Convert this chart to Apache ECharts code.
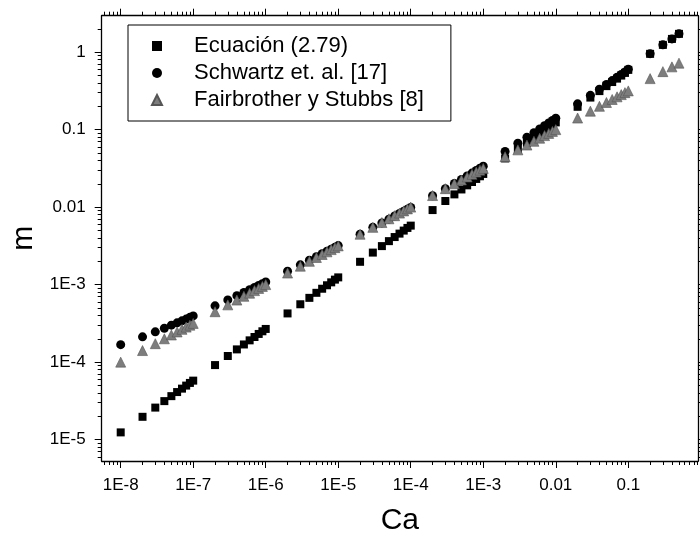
<!DOCTYPE html>
<html>
<head>
<meta charset="utf-8">
<script src="https://cdn.jsdelivr.net/npm/echarts@6/dist/echarts.min.js"></script>
<style>html,body{margin:0;padding:0;background:#fff;}#c{width:700px;height:536px;}</style>
</head>
<body>
<div id="c"></div>
<script>
// Capillary number (x values)
const ca = [
  1e-8,2e-8,3e-8,4e-8,5e-8,6e-8,7e-8,8e-8,9e-8,
  1e-7,2e-7,3e-7,4e-7,5e-7,6e-7,7e-7,8e-7,9e-7,
  1e-6,2e-6,3e-6,4e-6,5e-6,6e-6,7e-6,8e-6,9e-6,
  1e-5,2e-5,3e-5,4e-5,5e-5,6e-5,7e-5,8e-5,9e-5,
  1e-4,2e-4,3e-4,4e-4,5e-4,6e-4,7e-4,8e-4,9e-4,
  1e-3,2e-3,3e-3,4e-3,5e-3,6e-3,7e-3,8e-3,9e-3,
  0.01,0.02,0.03,0.04,0.05,0.06,0.07,0.08,0.09,
  0.1,0.2,0.3,0.4,0.5
];
const ecuacion = [
  1.24e-5,1.97e-5,2.59e-5,3.14e-5,3.64e-5,4.11e-5,4.55e-5,4.98e-5,5.39e-5,
  5.77e-5,9.16e-5,1.20e-4,1.46e-4,1.69e-4,1.91e-4,2.11e-4,2.31e-4,2.50e-4,
  2.68e-4,4.25e-4,5.58e-4,6.75e-4,7.84e-4,8.85e-4,9.81e-4,1.07e-3,1.16e-3,
  1.24e-3,1.97e-3,2.59e-3,3.14e-3,3.64e-3,4.11e-3,4.55e-3,4.98e-3,5.39e-3,
  5.77e-3,9.16e-3,0.0120,0.0146,0.0169,0.0191,0.0211,0.0231,0.0250,
  0.0268,0.0425,0.0558,0.0675,0.0784,0.0885,0.0981,0.107,0.116,
  0.124,0.197,0.259,0.314,0.364,0.411,0.455,0.498,0.539,
  0.590,0.950,1.24,1.48,1.72
];
const schwartz = [
  1.68e-4,2.12e-4,2.46e-4,2.74e-4,3.00e-4,3.21e-4,3.41e-4,3.59e-4,3.78e-4,
  3.95e-4,5.32e-4,6.35e-4,7.21e-4,7.92e-4,8.60e-4,9.20e-4,9.75e-4,1.03e-3,
  1.08e-3,1.49e-3,1.80e-3,2.06e-3,2.29e-3,2.50e-3,2.70e-3,2.87e-3,3.03e-3,
  3.19e-3,4.47e-3,5.48e-3,6.26e-3,7.00e-3,7.67e-3,8.28e-3,8.85e-3,9.39e-3,
  9.9e-3,0.0140,0.0173,0.0202,0.0228,0.0252,0.0275,0.0297,0.0318,
  0.0338,0.0523,0.0668,0.0797,0.0912,0.102,0.112,0.122,0.131,
  0.140,0.215,0.277,0.332,0.382,0.429,0.474,0.515,0.555,
  0.600,0.955,1.24,1.48,1.73
];
const fairbrother = [
  1.00e-4,1.41e-4,1.73e-4,2.00e-4,2.24e-4,2.45e-4,2.65e-4,2.83e-4,3.00e-4,
  3.16e-4,4.47e-4,5.48e-4,6.32e-4,7.07e-4,7.75e-4,8.37e-4,8.94e-4,9.49e-4,
  1.00e-3,1.41e-3,1.73e-3,2.00e-3,2.24e-3,2.45e-3,2.65e-3,2.83e-3,3.00e-3,
  3.16e-3,4.47e-3,5.48e-3,6.32e-3,7.07e-3,7.75e-3,8.37e-3,8.94e-3,9.49e-3,
  0.0100,0.0141,0.0173,0.0200,0.0224,0.0245,0.0265,0.0283,0.0300,
  0.0316,0.0447,0.0548,0.0632,0.0707,0.0775,0.0837,0.0894,0.0949,
  0.100,0.141,0.173,0.200,0.224,0.245,0.265,0.283,0.300,
  0.316,0.455,0.560,0.645,0.720
];
const seriesNames = ['Ecuación (2.79)', 'Schwartz et. al. [17]', 'Fairbrother y Stubbs [8]'];

const xTickValues = [1e-8,1e-7,1e-6,1e-5,1e-4,1e-3,0.01,0.1];
const xTickLabels = ['1E-8','1E-7','1E-6','1E-5','1E-4','1E-3','0.01','0.1'];
const yTickValues = [1e-5,1e-4,1e-3,0.01,0.1,1];
const yTickLabels = ['1E-5','1E-4','1E-3','0.01','0.1','1'];

const X_MIN = 5.47e-9, X_MAX = 0.915;
const Y_MIN = 5.3e-6, Y_MAX = 2.95;

function minorTicks(lo, hi) {
  const out = [];
  for (let e = -10; e <= 1; e++) {
    for (let k = 2; k <= 9; k++) {
      const v = parseFloat((k * Math.pow(10, e)).toPrecision(6));
      if (v >= lo && v <= hi) out.push(v);
    }
  }
  return out;
}
const xMinor = minorTicks(X_MIN, X_MAX);
const yMinor = minorTicks(Y_MIN, Y_MAX);

const FONT = 'Liberation Sans, Arial, sans-serif';
const AX = '#000';

function pairs(ys) { return ca.map((x, i) => [x, ys[i]]); }
function lab(vals, labels) {
  return function (v) {
    for (let i = 0; i < vals.length; i++) {
      if (Math.abs(Math.log10(v) - Math.log10(vals[i])) < 1e-6) return labels[i];
    }
    return '';
  };
}

function xAx(pos, major, withLabel, extra) {
  return Object.assign({
    type: 'log', min: X_MIN, max: X_MAX, position: pos,
    axisLine: { show: major, lineStyle: { color: AX, width: 1.3 } },
    axisTick: { show: true, inside: false, length: major ? 7 : 4,
      customValues: major ? xTickValues : xMinor, lineStyle: { color: AX, width: 1 } },
    axisLabel: { show: withLabel, customValues: xTickValues, formatter: lab(xTickValues, xTickLabels),
      color: '#000', fontSize: 17, fontFamily: FONT, margin: 16 },
    splitLine: { show: false }, minorTick: { show: false }, minorSplitLine: { show: false }
  }, extra || {});
}
function yAx(pos, major, withLabel, extra) {
  return Object.assign({
    type: 'log', min: Y_MIN, max: Y_MAX, position: pos,
    axisLine: { show: major, lineStyle: { color: AX, width: 1.3 } },
    axisTick: { show: true, inside: false, length: major ? 7 : 4,
      customValues: major ? yTickValues : yMinor, lineStyle: { color: AX, width: 1 } },
    axisLabel: { show: withLabel, customValues: yTickValues, formatter: lab(yTickValues, yTickLabels),
      color: '#000', fontSize: 17, fontFamily: FONT, margin: 16 },
    splitLine: { show: false }, minorTick: { show: false }, minorSplitLine: { show: false }
  }, extra || {});
}

const chart = echarts.init(document.getElementById('c'), null, { renderer: 'canvas' });
chart.setOption({
  animation: false,
  backgroundColor: '#fff',
  textStyle: { fontFamily: FONT },
  grid: { left: 101.7, right: 2, top: 15.7, bottom: 75, outerBoundsMode: 'none', containLabel: false },
  legend: {
    data: seriesNames,
    orient: 'vertical', left: 128, top: 25,
    itemWidth: 10, itemHeight: 10, itemGap: 5,
    padding: [10, 27, 10, 23],
    borderColor: '#000', borderWidth: 1, backgroundColor: '#fff',
    textStyle: { fontSize: 22, fontFamily: FONT, color: '#000', padding: [0, 0, 0, 27] },
    selectedMode: false
  },
  xAxis: [
    xAx('bottom', true, true, { name: 'Ca', nameLocation: 'middle', nameGap: 45,
      nameTextStyle: { fontSize: 30, fontFamily: FONT, color: '#000' } }),
    xAx('bottom', false, false),
    xAx('top', true, false),
    xAx('top', false, false)
  ],
  yAxis: [
    yAx('left', true, true, { name: 'm', nameLocation: 'middle', nameGap: 52, nameRotate: 90,
      nameTextStyle: { fontSize: 30, fontFamily: FONT, color: '#000' } }),
    yAx('left', false, false),
    yAx('right', true, false),
    yAx('right', false, false)
  ],
  series: [
    { name: seriesNames[0], type: 'scatter', data: pairs(ecuacion), symbol: 'rect', symbolSize: 8,
      itemStyle: { color: '#000', opacity: 1 } },
    { name: seriesNames[1], type: 'scatter', data: pairs(schwartz), symbol: 'circle', symbolSize: 9,
      itemStyle: { color: '#000', opacity: 1 } },
    { name: seriesNames[2], type: 'scatter', data: pairs(fairbrother), symbol: 'triangle', symbolSize: 10,
      itemStyle: { color: '#7d7d7d', borderColor: '#555', borderWidth: 0.6, opacity: 1 } }
  ]
});
</script>
</body>
</html>
